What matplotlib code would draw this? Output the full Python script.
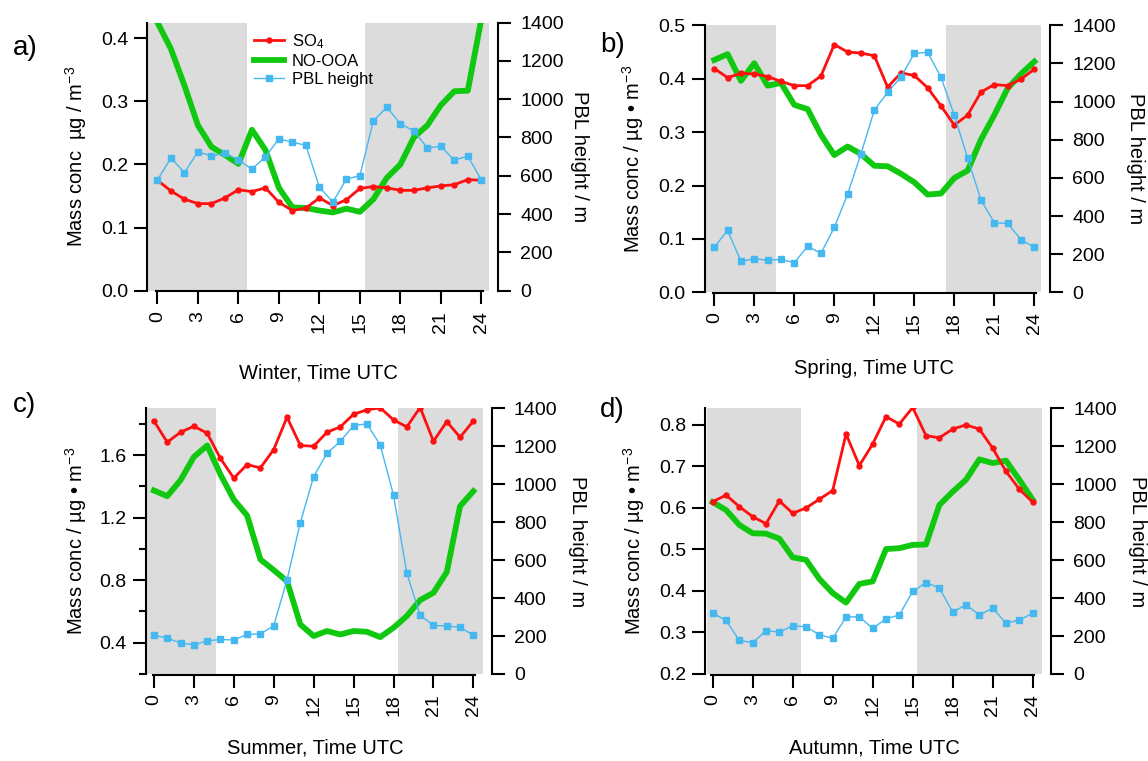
import matplotlib
matplotlib.use("Agg")
import matplotlib.pyplot as plt
from matplotlib.ticker import MultipleLocator

plt.rcParams['font.family'] = ['Liberation Sans', 'DejaVu Sans']
plt.rcParams['mathtext.fontset'] = 'custom'
plt.rcParams['mathtext.rm'] = 'Liberation Sans'
plt.rcParams['mathtext.it'] = 'Liberation Sans:italic'

hours = list(range(25))

# SO4 mass concentration (ug m-3)
so4_winter = [0.175, 0.158, 0.145, 0.138, 0.138, 0.147, 0.160, 0.157, 0.163, 0.140, 0.127, 0.131, 0.147,
              0.135, 0.144, 0.162, 0.165, 0.163, 0.159, 0.159, 0.163, 0.166, 0.168, 0.176, 0.175]
so4_spring = [0.419, 0.402, 0.410, 0.409, 0.404, 0.395, 0.387, 0.387, 0.405, 0.464, 0.450, 0.448, 0.443,
              0.384, 0.411, 0.406, 0.383, 0.349, 0.313, 0.332, 0.375, 0.389, 0.387, 0.399, 0.418]
so4_summer = [1.819, 1.683, 1.747, 1.785, 1.741, 1.579, 1.453, 1.540, 1.519, 1.636, 1.843, 1.662, 1.657,
              1.747, 1.781, 1.862, 1.890, 1.903, 1.826, 1.781, 1.905, 1.689, 1.815, 1.715, 1.819]
so4_autumn = [0.615, 0.631, 0.603, 0.579, 0.562, 0.617, 0.587, 0.600, 0.621, 0.642, 0.778, 0.702, 0.754,
              0.820, 0.802, 0.842, 0.774, 0.769, 0.790, 0.800, 0.790, 0.744, 0.688, 0.645, 0.614]

# NO-OOA mass concentration (ug m-3)
noooa_winter = [0.425, 0.383, 0.325, 0.262, 0.228, 0.215, 0.201, 0.255, 0.223, 0.163, 0.132, 0.131, 0.127,
                0.124, 0.130, 0.125, 0.145, 0.179, 0.200, 0.243, 0.262, 0.294, 0.316, 0.317, 0.430]
noooa_spring = [0.435, 0.446, 0.396, 0.429, 0.387, 0.392, 0.351, 0.343, 0.295, 0.257, 0.273, 0.259, 0.237,
                0.236, 0.222, 0.206, 0.183, 0.185, 0.214, 0.228, 0.286, 0.332, 0.382, 0.409, 0.432]
noooa_summer = [1.374, 1.338, 1.440, 1.589, 1.662, 1.476, 1.316, 1.214, 0.933, 0.865, 0.794, 0.517, 0.443,
                0.475, 0.453, 0.475, 0.470, 0.436, 0.496, 0.571, 0.673, 0.720, 0.852, 1.274, 1.370]
noooa_autumn = [0.614, 0.595, 0.559, 0.539, 0.538, 0.526, 0.481, 0.475, 0.429, 0.395, 0.372, 0.417, 0.423,
                0.501, 0.503, 0.511, 0.512, 0.607, 0.639, 0.668, 0.717, 0.708, 0.714, 0.668, 0.620]

# planetary boundary layer height (m)
pbl_winter = [578, 693, 616, 726, 703, 717, 683, 634, 700, 792, 775, 759, 540,
              463, 582, 601, 886, 958, 871, 834, 745, 754, 681, 703, 578]
pbl_spring = [236, 325, 162, 176, 168, 173, 155, 241, 204, 340, 515, 726, 955,
              1049, 1128, 1253, 1258, 1128, 929, 703, 484, 365, 361, 276, 236]
pbl_summer = [204, 189, 163, 154, 175, 182, 179, 209, 212, 254, 496, 798, 1040,
              1163, 1226, 1309, 1318, 1207, 942, 532, 309, 256, 253, 246, 204]
pbl_autumn = [321, 282, 177, 165, 228, 221, 254, 249, 207, 188, 300, 302, 240,
              291, 311, 435, 482, 453, 326, 365, 311, 347, 268, 284, 321]

seasons = ['Winter', 'Spring', 'Summer', 'Autumn']
letters = ['a)', 'b)', 'c)', 'd)']
sunrise = [6.6, 4.65, 4.63, 6.6]
sunset = [15.35, 17.4, 18.35, 15.35]

so4 = [so4_winter, so4_spring, so4_summer, so4_autumn]
noooa = [noooa_winter, noooa_spring, noooa_summer, noooa_autumn]
pbl = [pbl_winter, pbl_spring, pbl_summer, pbl_autumn]

W, H = 1148, 761
# axes boxes in pixels: left, top, right, bottom
boxes = [(148.3, 22.5, 489, 290.7), (706, 25.3, 1041, 292.3),
         (147, 408.3, 482.7, 674), (706.7, 408.3, 1042, 674)]
xlims = [(-0.68, 24.57), (-0.62, 24.5), (-0.52, 24.7), (-0.45, 24.7)]
ylims = [(0, 0.425), (0, 0.5), (0.2, 1.9), (0.2, 0.84)]
ymajor = [0.1, 0.1, 0.4, 0.1]
yminor = [None, None, 0.2, None]
ylabels = ['Mass conc  µg / m$^{-3}$', 'Mass conc / µg • m$^{-3}$',
           'Mass conc / µg • m$^{-3}$', 'Mass conc / µg • m$^{-3}$']
letter_pos = [(13, 48), (600, 45), (13, 405), (600, 410)]
# label centres in pixels: x label y, left label x, right label x
xlab_y = [373, 368, 748, 748]
ylab_x = [76, 633, 76, 634]
rlab_x = [579, 1136, 578, 1138]

red = '#ff1010'
green = '#10c810'
blue = '#45b8f0'
shade = '#dcdcdc'

fig = plt.figure(figsize=(W / 100, H / 100), dpi=100)

for i in range(4):
    l, t, r, b = boxes[i]
    ax = fig.add_axes([l / W, 1 - b / H, (r - l) / W, (b - t) / H])
    ax.set_xlim(*xlims[i])
    ax.set_ylim(*ylims[i])
    ax.axvspan(xlims[i][0], sunrise[i], color=shade, lw=0, zorder=0)
    ax.axvspan(sunset[i], xlims[i][1], color=shade, lw=0, zorder=0)

    l1, = ax.plot(hours, noooa[i], color=green, lw=4.2, solid_joinstyle='round',
                  label='NO-OOA', zorder=2)
    l0, = ax.plot(hours, so4[i], color=red, lw=2.0, marker='o', ms=3.6,
                  label='SO$_4$', zorder=3)

    ax2 = ax.twinx()
    ax2.set_ylim(0, 1400)
    l2, = ax2.plot(hours, pbl[i], color=blue, lw=1.0, marker='s', ms=5,
                   label='PBL height', zorder=3)

    for s in ['top', 'right']:
        ax.spines[s].set_visible(False)
    for s in ['top', 'left', 'bottom']:
        ax2.spines[s].set_visible(False)
    ax.spines['left'].set_position(('outward', 1))
    ax.spines['bottom'].set_position(('outward', 0.5))
    ax.spines['bottom'].set_bounds(-0.1, 24.1)
    ax2.spines['right'].set_position(('outward', 6.5))
    for sp in [ax.spines['left'], ax.spines['bottom'], ax2.spines['right']]:
        sp.set_linewidth(1.5)

    ax.set_xticks(list(range(0, 25, 3)))
    ax.tick_params(axis='x', length=9, width=1.5, pad=5, labelsize=14, labelrotation=90)
    ax.yaxis.set_major_locator(MultipleLocator(ymajor[i]))
    if yminor[i]:
        ax.yaxis.set_minor_locator(MultipleLocator(yminor[i]))
        ax.tick_params(axis='y', which='minor', length=5, width=1.5)
    ax.tick_params(axis='y', length=9.5, width=1.5, pad=4, labelsize=14)
    ax.yaxis.set_major_formatter(plt.FormatStrFormatter('%.1f'))
    ax2.yaxis.set_major_locator(MultipleLocator(200))
    ax2.tick_params(axis='y', length=9, width=1.5, pad=7, labelsize=14)

    w_px, h_px = r - l, b - t
    ax.set_xlabel(seasons[i] + ', Time UTC', fontsize=14.5, va='center')
    ax.xaxis.set_label_coords(0.5, -(xlab_y[i] - b) / h_px)
    ax.set_ylabel(ylabels[i], fontsize=14.5, va='center')
    ax.yaxis.set_label_coords((ylab_x[i] - l) / w_px, 0.5)
    ax2.set_ylabel('PBL height / m', fontsize=14.5, rotation=270, va='center')
    ax2.yaxis.set_label_coords((rlab_x[i] - l) / w_px, 0.5)

    fig.text(letter_pos[i][0] / W, 1 - letter_pos[i][1] / H, letters[i],
             fontsize=20, ha='left', va='center')

    if i == 0:
        ax2.legend(handles=[l0, l1, l2], loc='upper left',
                   bbox_to_anchor=(0.309, 0.965), frameon=False, fontsize=12,
                   borderpad=0, borderaxespad=0, labelspacing=0.2,
                   handlelength=1.8, handletextpad=0.5)

fig.savefig('out.png', dpi=100)
